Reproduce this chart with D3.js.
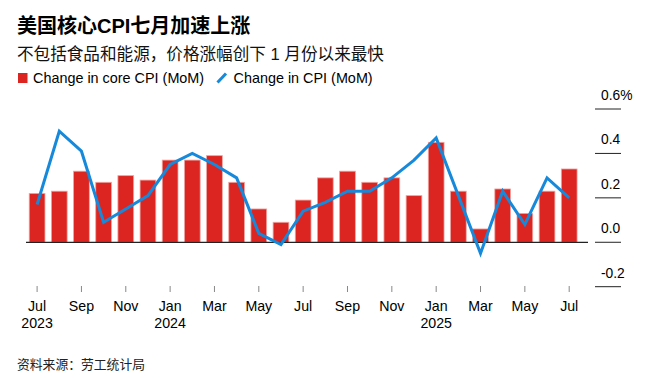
<!DOCTYPE html>
<html><head><meta charset="utf-8">
<script src="https://cdn.jsdelivr.net/npm/d3@7"></script>
<style>
body{margin:0;background:#fff;}
svg{display:block;font-family:"Liberation Sans","Noto Sans CJK SC",Arial,sans-serif;}
</style></head>
<body><svg id="c" width="655" height="378"></svg>
<script>
const months = ["2023-07","2023-08","2023-09","2023-10","2023-11","2023-12","2024-01","2024-02","2024-03","2024-04","2024-05","2024-06","2024-07","2024-08","2024-09","2024-10","2024-11","2024-12","2025-01","2025-02","2025-03","2025-04","2025-05","2025-06","2025-07"];
const coreCPI = [0.22,0.23,0.32,0.27,0.30,0.28,0.37,0.37,0.39,0.27,0.15,0.09,0.19,0.29,0.32,0.27,0.29,0.21,0.45,0.23,0.06,0.24,0.13,0.23,0.33];
const headlineCPI = [0.17,0.50,0.41,0.09,0.15,0.21,0.35,0.40,0.35,0.29,0.04,-0.01,0.14,0.18,0.23,0.23,0.29,0.37,0.47,0.21,-0.05,0.23,0.08,0.29,0.20];
const monthLabels = {"2023-07":"Jul","2023-09":"Sep","2023-11":"Nov","2024-01":"Jan","2024-03":"Mar","2024-05":"May","2024-07":"Jul","2024-09":"Sep","2024-11":"Nov","2025-01":"Jan","2025-03":"Mar","2025-05":"May","2025-07":"Jul"};
const yearLabels = {"2023-07":"2023","2024-01":"2024","2025-01":"2025"};
const yTicks = [-0.2,0,0.2,0.4,0.6];

const svg = d3.select("#c");
const x = d3.scaleBand().domain(months).range([22.8,583.5]).padding(0.29);
const y = d3.scaleLinear().domain([-0.2,0.6]).range([286.7,109]);
const cx = m => x(m) + x.bandwidth()/2;

// Title
svg.append("text").attr("x",17).attr("y",33).attr("font-size",20).attr("font-weight","bold").attr("fill","#000").text("美国核心CPI七月加速上涨");
svg.append("text").attr("x",17).attr("y",60).attr("font-size",16.6).attr("fill","#111").text("不包括食品和能源，价格涨幅创下 1 月份以来最快");

// Legend
svg.append("rect").attr("x",18).attr("y",73).attr("width",9.5).attr("height",10).attr("fill","#dc2520");
svg.append("text").attr("x",33).attr("y",83).attr("font-size",14.4).attr("fill","#000").text("Change in core CPI (MoM)");
svg.append("line").attr("x1",217.5).attr("y1",82.5).attr("x2",226).attr("y2",73.5).attr("stroke","#1689db").attr("stroke-width",3);
svg.append("text").attr("x",233.5).attr("y",83).attr("font-size",14.4).attr("fill","#000").text("Change in CPI (MoM)");

// Y axis (right)
const yg = svg.append("g");
yTicks.forEach(t=>{
  yg.append("line").attr("x1",595).attr("x2",621).attr("y1",y(t)).attr("y2",y(t)).attr("stroke","#222").attr("stroke-width",1);
  yg.append("text").attr("x",601).attr("y",y(t)-9).attr("font-size",13.8).attr("fill","#000")
    .text((t<0?"-":"")+d3.format(".1f")(Math.abs(t))+(t===0.6?"%":""));
});

// Bars
svg.append("g").selectAll("rect").data(months).join("rect")
  .attr("x",m=>x(m)).attr("width",x.bandwidth())
  .attr("y",(m,i)=>y(Math.max(0,coreCPI[i])))
  .attr("height",(m,i)=>Math.abs(y(coreCPI[i])-y(0)))
  .attr("fill","#dc2520").attr("stroke","#eea5a2").attr("stroke-width",0.8);

// Zero baseline
svg.append("line").attr("x1",26).attr("x2",588).attr("y1",y(0)).attr("y2",y(0)).attr("stroke","#222").attr("stroke-width",1.2);

// CPI line
const line = d3.line().x((d,i)=>cx(months[i])).y(d=>y(d));
svg.append("path").datum(headlineCPI).attr("d",line).attr("fill","none").attr("stroke","#1689db").attr("stroke-width",3).attr("stroke-linejoin","miter");

// X axis
const xg = svg.append("g");
months.forEach(m=>{
  if(monthLabels[m]){
    xg.append("line").attr("x1",cx(m)).attr("x2",cx(m)).attr("y1",286).attr("y2",292).attr("stroke","#888").attr("stroke-width",1);
    xg.append("text").attr("x",cx(m)).attr("y",310.5).attr("text-anchor","middle").attr("font-size",14.2).attr("fill","#000").text(monthLabels[m]);
  }
  if(yearLabels[m]){
    xg.append("text").attr("x",cx(m)).attr("y",327.5).attr("text-anchor","middle").attr("font-size",14.2).attr("fill","#000").text(yearLabels[m]);
  }
});

// Source
svg.append("text").attr("x",17).attr("y",368.5).attr("font-size",12.8).attr("fill","#222").text("资料来源：劳工统计局");
</script></body></html>
